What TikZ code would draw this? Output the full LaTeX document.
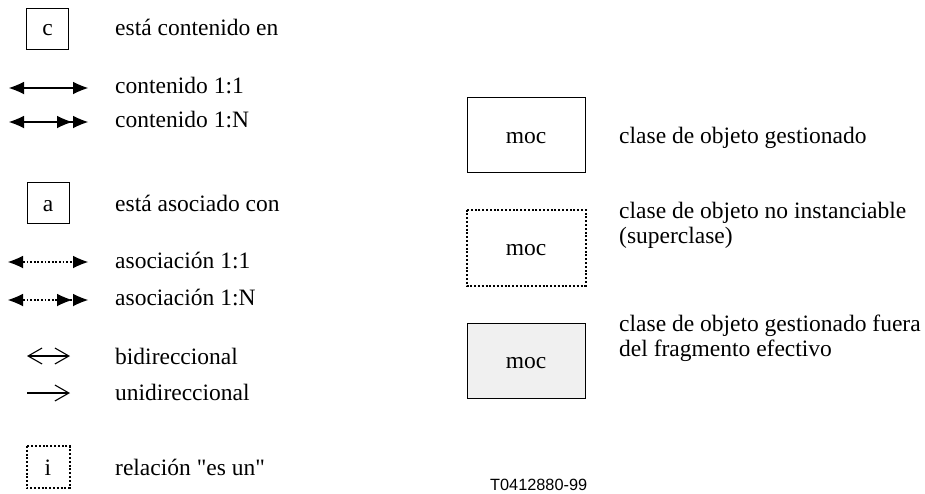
\documentclass[tikz,border=0pt]{standalone}
\usepackage{fontspec}
\setmainfont{Liberation Serif}
\newfontfamily\labelsans{Liberation Sans}
\newcommand\straightdq{\XeTeXglyph\XeTeXcharglyph"22\relax}
\usetikzlibrary{arrows.meta}
\tikzset{
  txtfont/.style={font=\fontsize{23.5}{25}\selectfont},
  legtext/.style={anchor=base west, inner sep=0pt, txtfont, align=left},
  boxtext/.style={anchor=base, inner sep=0pt, txtfont},
  smallbox/.style={draw, line width=1pt, minimum width=42pt, minimum height=41pt, inner sep=0pt},
  mocbox/.style={draw, line width=1pt, minimum width=118pt, minimum height=75pt, inner sep=0pt},
  dotbox/.style={dash pattern=on 2pt off 1.8pt, line width=2pt},
  fullhead/.style={line width=2pt},
  assochead/.style={line width=1.8pt, dash pattern=on 1.8pt off 1.8pt},
  tri/.tip={Latex[length=15pt,width=12.5pt,line width=0pt]},
  barb/.tip={Straight Barb[length=14pt,width=16pt,line width=1.1pt]}
}
\definecolor{lightfill}{gray}{0.94}
\begin{document}
\begin{tikzpicture}[x=1pt,y=-1pt]
\useasboundingbox (0,0) rectangle (925,493);
% left column
\node[smallbox] (cbox) at (47.5,29) {};
\node[boxtext] (cl) at (47.5,35) {c};
\node[legtext] (ctext) at (115,35) {está contenido en};

\coordinate (c1a) at (9,88); \coordinate (c1b) at (88,88);
\draw[fullhead, tri-tri] (c1a) -- (c1b);
\node[legtext] (c1t) at (115,93) {contenido 1:1};

\coordinate (cNa) at (9,122); \coordinate (cNb) at (88,122);
\draw[fullhead, {tri}-{tri[sep=1pt]tri}] (cNa) -- (cNb);
\node[legtext] (cNt) at (115,127) {contenido 1:N};

\node[smallbox] (abox) at (48,202.5) {};
\node[boxtext] (al) at (48,211) {a};
\node[legtext] (atext) at (115,211) {está asociado con};

\coordinate (a1a) at (8,262); \coordinate (a1b) at (88,262);
\draw[assochead, tri-tri] (a1a) -- (a1b);
\node[legtext] (a1t) at (115,268) {asociación 1:1};

\coordinate (aNa) at (8,300); \coordinate (aNb) at (88,300);
\draw[assochead, {tri}-{tri[sep=1pt]tri}] (aNa) -- (aNb);
\node[legtext] (aNt) at (115,305) {asociación 1:N};

\coordinate (bia) at (27,356); \coordinate (bib) at (70,356);
\draw[line width=1.1pt, barb-barb] (bia) -- (bib);
\node[legtext] (bit) at (115,364) {bidireccional};

\coordinate (una) at (27,393); \coordinate (unb) at (70,393);
\draw[line width=2pt, -barb] (una) -- (unb);
\node[legtext] (unt) at (115,400) {unidireccional};

\node[smallbox, draw=none] (ibox) at (48,467) {};
\draw[dotbox] (ibox.north west) rectangle (ibox.south east);
\node[boxtext] (il) at (48,475) {i};
\node[legtext] (itext) at (115,475) {relación \straightdq es un\straightdq};

% right column
\node[mocbox] (moc1) at (526,134.5) {};
\node[boxtext] (moc1l) at (526,143) {moc};
\node[legtext] (moc1t) at (619,143) {clase de objeto gestionado};

\node[mocbox, draw=none] (moc2) at (526,247.5) {};
\draw[dotbox] (moc2.north west) rectangle (moc2.south east);
\node[boxtext] (moc2l) at (526,255) {moc};
\node[legtext] (moc2t) at (619,243) {clase de objeto no instanciable\\(superclase)};

\node[mocbox, fill=lightfill] (moc3) at (526,361) {};
\node[boxtext] (moc3l) at (526,368) {moc};
\node[legtext] (moc3t) at (619,356) {clase de objeto gestionado fuera\\del fragmento efectivo};

\node[anchor=base west, inner sep=0pt, font=\labelsans\fontsize{16.3}{18}\selectfont] (fig) at (490,490) {T0412880-99};
\end{tikzpicture}
\end{document}
